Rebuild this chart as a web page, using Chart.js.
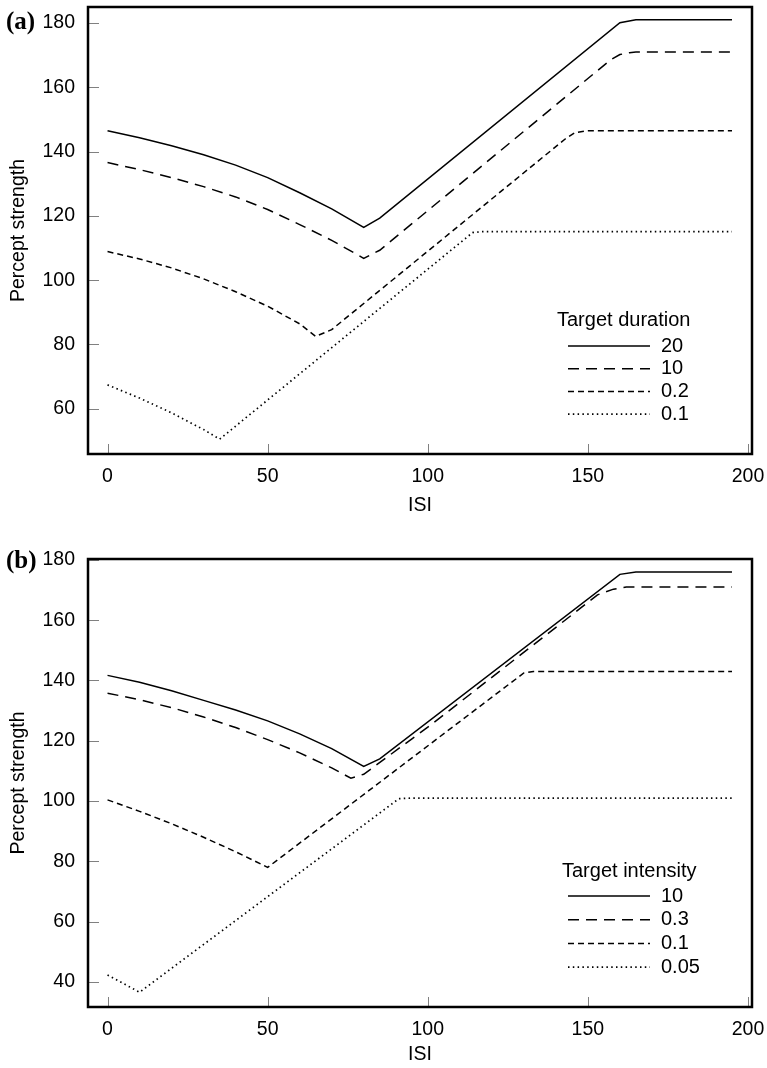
<!DOCTYPE html>
<html>
<head>
<meta charset="utf-8">
<script src="https://cdn.jsdelivr.net/npm/chart.js@4.4.0/dist/chart.umd.min.js"></script>
<style>
  html, body { margin: 0; padding: 0; background: #fff; }
  canvas { display: block; }
</style>
</head>
<body>
<canvas id="chartA" width="767" height="534"></canvas>
<canvas id="chartB" width="767" height="534"></canvas>
<script>
// ---- panel (a): target duration ----
const durLabels = ['20', '10', '0.2', '0.1'];
const isiA20 = [0, 10, 20, 30, 40, 50, 60, 70, 80, 85, 160, 165, 195];
const valA20 = [146.5, 144.3, 141.8, 139.0, 135.8, 131.9, 127.2, 122.2, 116.4, 119.3, 180.1, 181, 181];
const isiA10 = [0, 10, 20, 30, 40, 50, 60, 70, 80, 85, 157, 160, 163, 165, 195];
const valA10 = [136.6, 134.4, 131.9, 129.1, 125.9, 122.0, 117.3, 112.4, 106.8, 109.3, 168.5, 170.2, 170.8, 171, 171];
const isiA02 = [0, 10, 20, 30, 40, 50, 60, 65, 70, 143, 146, 150, 195];
const valA02 = [108.9, 106.6, 103.8, 100.4, 96.4, 91.9, 86.4, 82.5, 84.6, 144, 145.9, 146.5, 146.5];
const isiA01 = [0, 10, 20, 30, 35, 114, 117, 195];
const valA01 = [67.4, 63.3, 58.7, 53.5, 50.5, 114.8, 115.1, 115.1];

// ---- panel (b): target intensity ----
const intLabels = ['10', '0.3', '0.1', '0.05'];
const isiB10 = [0, 10, 20, 30, 40, 50, 60, 70, 80, 85, 160, 165, 195];
const valB10 = [141.7, 139.4, 136.6, 133.4, 130.2, 126.6, 122.3, 117.4, 111.5, 114.0, 175.2, 176, 176];
const isiB03 = [0, 10, 20, 30, 40, 50, 60, 70, 76, 80, 101, 153, 158, 162, 195];
const valB03 = [135.8, 133.6, 131.0, 127.9, 124.4, 120.4, 116.0, 111.0, 107.6, 108.9, 125.3, 168.4, 170.3, 171, 171];
const isiB01 = [0, 10, 20, 30, 40, 50, 130, 133, 195];
const valB01 = [100.4, 96.6, 92.5, 88.0, 83.2, 78.0, 142.5, 143, 143];
const isiB005 = [0, 10, 91, 95, 195];
const valB005 = [42.3, 36.6, 100.8, 101, 101];

const xTicks = [0, 50, 100, 150, 200];
const dashes = [[], [11, 7], [6, 4], [1.5, 3.3]];

const FONT = '"Liberation Sans", Arial, sans-serif';
const FSIZE = 19.5;

function pts(xs, ys) {
  return xs.map((v, i) => ({ x: v, y: ys[i] }));
}

// draws the box, inward ticks, panel letter and legend
const framePlugin = {
  id: 'frame',
  afterDatasetsDraw(chart, args, opts) {
    const { ctx, chartArea: a } = chart;
    const x = chart.scales.x, y = chart.scales.y;
    ctx.save();
    ctx.strokeStyle = '#808080';
    ctx.lineWidth = 1;
    y.ticks.forEach(t => {
      const py = Math.round(y.getPixelForValue(t.value)) + 0.5;
      ctx.beginPath();
      ctx.moveTo(a.left, py);
      ctx.lineTo(a.left + 11, py);
      ctx.stroke();
    });
    x.ticks.forEach(t => {
      const px = Math.round(x.getPixelForValue(t.value)) + 0.5;
      ctx.beginPath();
      ctx.moveTo(px, a.bottom);
      ctx.lineTo(px, a.bottom - 10);
      ctx.stroke();
    });
    ctx.strokeStyle = '#000';
    ctx.lineWidth = 2.5;
    ctx.strokeRect(a.left, a.top, a.right - a.left, a.bottom - a.top);

    ctx.fillStyle = '#000';
    ctx.textBaseline = 'middle';
    ctx.textAlign = 'left';
    ctx.font = 'bold 25px "Liberation Serif", "Times New Roman", serif';
    ctx.fillText(opts.letter, 6, opts.letterY);

    // legend
    const lg = opts.legend;
    ctx.font = '20px ' + FONT;
    ctx.fillText(lg.title, lg.titleX, lg.titleY);
    chart.data.datasets.forEach((ds, i) => {
      const ly = lg.firstY + i * lg.step;
      ctx.strokeStyle = '#000';
      ctx.lineWidth = ds.borderWidth;
      ctx.setLineDash(ds.borderDash);
      ctx.beginPath();
      ctx.moveTo(568, ly);
      ctx.lineTo(650, ly);
      ctx.stroke();
      ctx.setLineDash([]);
      ctx.fillText(ds.label, 661, ly);
    });
    ctx.restore();
  }
};

function makeChart(id, labels, series, yMin, yMax, yStep, xHeight, xTitlePad, padTop, frame) {
  return new Chart(document.getElementById(id), {
    type: 'line',
    data: {
      datasets: series.map((s, i) => ({
        label: labels[i],
        data: s,
        borderColor: '#000',
        borderWidth: i === 3 ? 1.7 : 1.5,
        borderDash: dashes[i],
        pointRadius: 0,
        tension: 0,
        fill: false
      }))
    },
    options: {
      responsive: false,
      animation: false,
      layout: { padding: { top: padTop, right: 15, left: 0, bottom: 0 } },
      plugins: {
        legend: { display: false },
        tooltip: { enabled: false },
        frame: frame
      },
      scales: {
        x: {
          type: 'linear',
          min: -6.1,
          max: 201.25,
          afterBuildTicks: s => { s.ticks = xTicks.map(v => ({ value: v })); },
          ticks: { color: '#000', font: { family: FONT, size: FSIZE }, padding: 11, maxRotation: 0 },
          grid: { display: false, drawTicks: false },
          border: { display: false },
          title: { display: true, text: 'ISI', color: '#000', font: { family: FONT, size: FSIZE }, padding: { top: 0, bottom: xTitlePad } },
          afterFit: s => { s.height = xHeight; s.paddingLeft = 0; s.paddingRight = 0; }
        },
        y: {
          min: yMin,
          max: yMax,
          ticks: { stepSize: yStep, includeBounds: false, color: '#000', font: { family: FONT, size: FSIZE }, padding: 13 },
          grid: { display: false, drawTicks: false },
          border: { display: false },
          title: { display: true, text: 'Percept strength', color: '#000', font: { family: FONT, size: FSIZE }, padding: { top: 7, bottom: 0 } },
          afterFit: s => { s.width = 88; s.paddingTop = 0; s.paddingBottom = 0; }
        }
      }
    },
    plugins: [framePlugin]
  });
}

makeChart('chartA', durLabels,
  [pts(isiA20, valA20), pts(isiA10, valA10), pts(isiA02, valA02), pts(isiA01, valA01)],
  45.9, 185, 20, 80, 17, 7,
  { letter: '(a)', letterY: 23, legend: { title: 'Target duration', titleX: 557, titleY: 320, firstY: 346, step: 22.7 } });

makeChart('chartB', intLabels,
  [pts(isiB10, valB10), pts(isiB03, valB03), pts(isiB01, valB01), pts(isiB005, valB005)],
  31.7, 180.3, 20, 61, 2, 25,
  { letter: '(b)', letterY: 28, legend: { title: 'Target intensity', titleX: 562, titleY: 337, firstY: 362, step: 23.7 } });
</script>
</body>
</html>
